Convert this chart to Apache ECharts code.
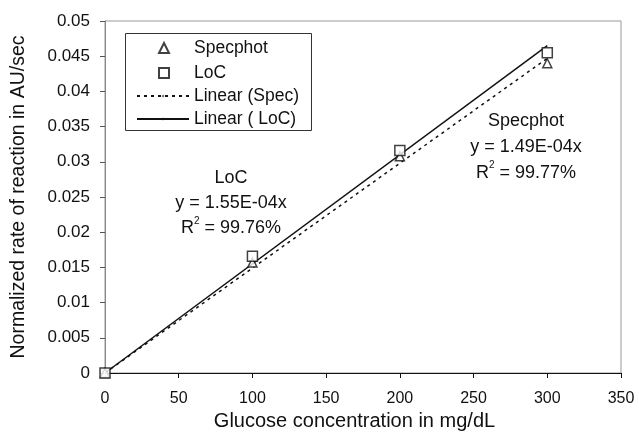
<!DOCTYPE html>
<html>
<head>
<meta charset="utf-8">
<script src="https://cdn.jsdelivr.net/npm/echarts@6/dist/echarts.min.js"></script>
<style>
  html, body { margin: 0; padding: 0; background: #fff; }
  #chart { width: 639px; height: 437px; }
</style>
</head>
<body>
<div id="chart"></div>
<script>
// glucose concentration (mg/dL)
const conc = [0, 100, 200, 300];
// measured rates (AU/sec)
const specphot = [0, 0.0157, 0.0308, 0.0440];
const loc = [0, 0.0166, 0.0316, 0.0455];
// linear fits through origin
const slopeSpec = 1.49e-4;
const slopeLoc = 1.55e-4;
const fitX = [0, 300];

const xTicks = [0, 50, 100, 150, 200, 250, 300, 350];

const font = "Liberation Sans, Arial, Helvetica, sans-serif";
const chart = echarts.init(document.getElementById("chart"));

const pair = (xs, ys) => xs.map((x, i) => [x, ys[i]]);

const legendText = { fontFamily: font, fontSize: 17.5, color: "#111" };

const fitLabel = (text, x, y, lh) => ({
  type: "text",
  x: x,
  y: y,
  style: {
    text: text,
    textAlign: "center",
    font: "18px " + font,
    fill: "#111",
    lineHeight: lh,
    rich: {
      r: { fontSize: 18, fontFamily: font, fill: "#111" },
      s: { fontSize: 10, fontFamily: font, verticalAlign: "top", padding: [0, 0, 8, 0] },
    },
  },
});

const options = {
  backgroundColor: "#fff",
  animation: false,
  textStyle: { fontFamily: font, color: "#111" },
  grid: {
    left: 105,
    right: 18,
    top: 21,
    bottom: 64,
    show: true,
    borderColor: "#999",
    borderWidth: 1,
  },
  // two legends inside one drawn box: markers, then fit lines
  legend: [
    {
      left: 158,
      top: 39,
      orient: "vertical",
      padding: 0,
      itemGap: 7,
      itemWidth: 10,
      itemHeight: 10,
      textStyle: Object.assign({ padding: [0, 0, 0, 20] }, legendText),
      data: ["Specphot", "LoC"],
    },
    {
      left: 136,
      top: 87,
      orient: "vertical",
      padding: 0,
      itemGap: 5,
      itemWidth: 52,
      itemHeight: 0.5,
      textStyle: legendText,
      data: ["Linear (Spec)", "Linear ( LoC)"],
    },
  ],
  xAxis: {
    type: "value",
    min: 0,
    max: 350,
    interval: 50,
    name: "Glucose concentration in mg/dL",
    nameLocation: "middle",
    nameGap: 37,
    nameTextStyle: { fontFamily: font, fontSize: 20, color: "#111", padding: [0, 17, 0, 0] },
    axisLine: { onZero: false, lineStyle: { color: "#111", width: 1 } },
    axisTick: { show: true, length: 5, lineStyle: { color: "#111" } },
    axisLabel: {
      margin: 18,
      fontFamily: font,
      fontSize: 16,
      color: "#111",
      formatter: (v) => (xTicks.includes(v) ? String(v) : ""),
    },
    splitLine: { show: false },
  },
  yAxis: {
    type: "value",
    min: 0,
    max: 0.05,
    interval: 0.005,
    name: "Normalized rate of reaction in AU/sec",
    nameLocation: "middle",
    nameGap: 76,
    nameTextStyle: { fontFamily: font, fontSize: 19.5, color: "#111" },
    axisLine: { show: true, onZero: false, lineStyle: { color: "#888", width: 1 } },
    axisTick: { show: true, length: 5, lineStyle: { color: "#555" } },
    axisLabel: {
      margin: 15,
      fontFamily: font,
      fontSize: 17,
      color: "#111",
      formatter: (v) => String(+v.toFixed(3)),
    },
    splitLine: { show: false },
  },
  graphic: [
    {
      type: "rect",
      left: 125,
      top: 33,
      z: -1,
      shape: { width: 186, height: 97 },
      style: { fill: "#fff", stroke: "#333", lineWidth: 1 },
    },
    fitLabel("LoC\ny = 1.55E-04x\n{r|R}{s|2}{r| = 99.76%}", 231, 166, 25),
    fitLabel("Specphot\ny = 1.49E-04x\n{r|R}{s|2}{r| = 99.77%}", 526, 108, 26),
  ],
  series: [
    {
      name: "Linear (Spec)",
      type: "line",
      data: fitX.map((x) => [x, slopeSpec * x]),
      showSymbol: false,
      lineStyle: { color: "#111", width: 1.5, type: [3, 4] },
      itemStyle: { color: "#111" },
      z: 2,
    },
    {
      name: "Linear ( LoC)",
      type: "line",
      data: fitX.map((x) => [x, slopeLoc * x]),
      showSymbol: false,
      lineStyle: { color: "#111", width: 1.5, type: "solid" },
      itemStyle: { color: "#111" },
      z: 2,
    },
    {
      name: "Specphot",
      type: "scatter",
      data: pair(conc, specphot),
      symbol: "triangle",
      symbolSize: 9,
      itemStyle: { color: "#fff", borderColor: "#111", borderWidth: 1.5 },
      z: 3,
    },
    {
      name: "LoC",
      type: "scatter",
      data: pair(conc, loc),
      symbol: "rect",
      symbolSize: 10,
      itemStyle: { color: "#fff", borderColor: "#111", borderWidth: 1.5 },
      z: 4,
    },
  ],
};

chart.setOption(options);
</script>
</body>
</html>
